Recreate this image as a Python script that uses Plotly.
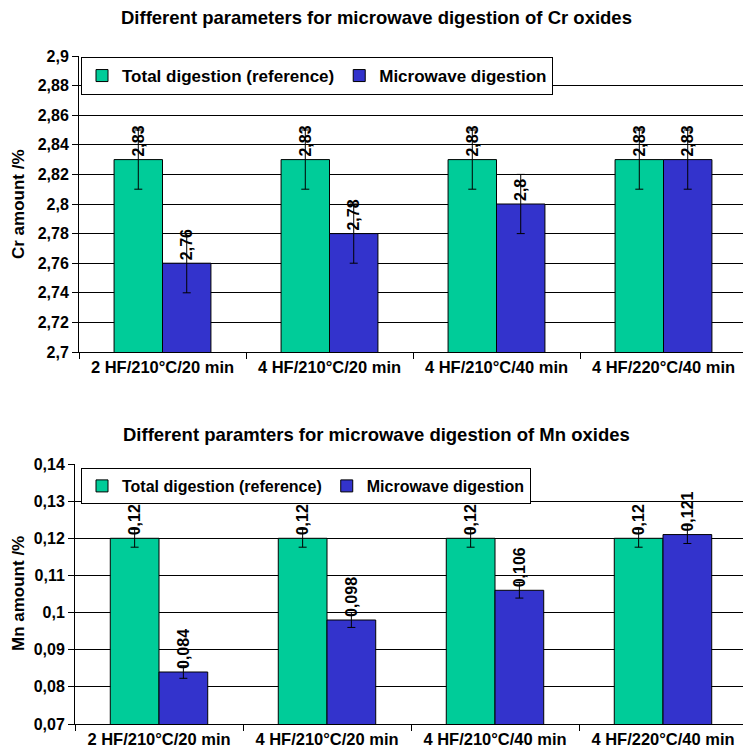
import plotly.graph_objects as go

categories = ["2 HF/210°C/20 min", "4 HF/210°C/20 min", "4 HF/210°C/40 min", "4 HF/220°C/40 min"]

cr_reference = [2.83, 2.83, 2.83, 2.83]
cr_microwave = [2.76, 2.78, 2.80, 2.83]
cr_ref_err = [0.02, 0.02, 0.02, 0.02]
cr_mw_err = [0.02, 0.02, 0.02, 0.02]
cr_ref_labels = ["2,83", "2,83", "2,83", "2,83"]
cr_mw_labels = ["2,76", "2,78", "2,8", "2,83"]
cr_tickvals = [2.70, 2.72, 2.74, 2.76, 2.78, 2.80, 2.82, 2.84, 2.86, 2.88, 2.90]
cr_ticktext = ["2,7", "2,72", "2,74", "2,76", "2,78", "2,8", "2,82", "2,84", "2,86", "2,88", "2,9"]

mn_reference = [0.12, 0.12, 0.12, 0.12]
mn_microwave = [0.084, 0.098, 0.106, 0.121]
mn_ref_err = [0.0024, 0.0024, 0.0024, 0.0024]
mn_mw_err = [0.0017, 0.002, 0.0021, 0.0024]
mn_ref_labels = ["0,12", "0,12", "0,12", "0,12"]
mn_mw_labels = ["0,084", "0,098", "0,106", "0,121"]
mn_tickvals = [0.07, 0.08, 0.09, 0.10, 0.11, 0.12, 0.13, 0.14]
mn_ticktext = ["0,07", "0,08", "0,09", "0,1", "0,11", "0,12", "0,13", "0,14"]

series_names = ["Total digestion (reference)", "Microwave digestion"]
titles = ["Different parameters for microwave digestion of Cr oxides",
          "Different paramters for microwave digestion of Mn oxides"]
ytitles = ["Cr amount /%", "Mn amount /%"]

GREEN = "#00CC99"
BLUE = "#3333CC"
FONT = "Liberation Sans, Arial, sans-serif"
W, H = 743, 753

fig = go.Figure()


def add_pair(ref, mw, ref_err, mw_err, ref_lab, mw_lab, xa, ya, legend):
    for vals, err, lab, name, col in [(ref, ref_err, ref_lab, series_names[0], GREEN),
                                      (mw, mw_err, mw_lab, series_names[1], BLUE)]:
        fig.add_trace(go.Bar(
            x=categories, y=vals, name=name, xaxis=xa, yaxis=ya, legend=legend,
            marker=dict(color=col, line=dict(color="black", width=1)),
            error_y=dict(type="data", array=err, visible=True, color="black", thickness=1, width=4),
            text=lab, textposition="outside", textangle=-90,
            textfont=dict(family=FONT, size=16, color="black", weight="bold"),
            cliponaxis=False, showlegend=True,
        ))


add_pair(cr_reference, cr_microwave, cr_ref_err, cr_mw_err, cr_ref_labels, cr_mw_labels, "x", "y", "legend")
add_pair(mn_reference, mn_microwave, mn_ref_err, mn_mw_err, mn_ref_labels, mn_mw_labels, "x2", "y2", "legend2")

common_x = dict(
    showline=True, linecolor="black", linewidth=1,
    ticks="outside", ticklen=6, tickcolor="black", tickson="boundaries",
    showgrid=False, automargin=False,
    tickfont=dict(family=FONT, size=16.5, color="black", weight="bold"),
)
common_y = dict(
    showline=True, linecolor="black", linewidth=1, ticks="outside", ticklen=6,
    tickcolor="black", showgrid=True, gridcolor="black", gridwidth=1, automargin=False,
    tickfont=dict(family=FONT, size=16, color="black", weight="bold"), zeroline=False,
)

fig.update_layout(
    template="none",
    width=W, height=H, margin=dict(l=0, r=0, t=0, b=0, autoexpand=False),
    paper_bgcolor="white", plot_bgcolor="white",
    barmode="group", bargap=0.42, bargroupgap=0,
    xaxis=dict(domain=[79 / W, 1], anchor="y", range=[-0.5, -0.5 + (W - 79) / 167.0], **common_x),
    yaxis=dict(domain=[1 - 352 / H, 1 - 56 / H], anchor="x", range=[2.7, 2.9],
               tickvals=cr_tickvals, ticktext=cr_ticktext, **common_y),
    xaxis2=dict(domain=[75 / W, 1], anchor="y2", range=[-0.5, -0.5 + (W - 75) / 168.0], **common_x),
    yaxis2=dict(domain=[1 - 724 / H, 1 - 464 / H], anchor="x2", range=[0.07, 0.14],
                tickvals=mn_tickvals, ticktext=mn_ticktext, **common_y),
    legend=dict(orientation="h", x=81 / W, y=1 - 57 / H, xanchor="left", yanchor="top",
                bgcolor="white", bordercolor="black", borderwidth=1,
                font=dict(family=FONT, size=17, color="black", weight="bold"),
                itemclick=False, itemdoubleclick=False),
    legend2=dict(orientation="h", x=81 / W, y=1 - 468 / H, xanchor="left", yanchor="top",
                 bgcolor="white", bordercolor="black", borderwidth=1,
                 font=dict(family=FONT, size=16, color="black", weight="bold"),
                 itemclick=False, itemdoubleclick=False),
    showlegend=True,
)

annos = [
    dict(text=titles[0], x=377 / W, y=1 - 18 / H, size=18.5, angle=0),
    dict(text=titles[1], x=377 / W, y=1 - 434 / H, size=18.5, angle=0),
    dict(text=ytitles[0], x=18 / W, y=1 - 204 / H, size=17, angle=-90),
    dict(text=ytitles[1], x=18 / W, y=1 - 594 / H, size=17, angle=-90),
]
for a in annos:
    fig.add_annotation(text=a["text"], x=a["x"], y=a["y"], xref="paper", yref="paper",
                       xanchor="center", yanchor="middle", showarrow=False, textangle=a["angle"],
                       font=dict(family=FONT, size=a["size"], color="black", weight="bold"))

fig.write_html(
    "out.html",
    config={"displayModeBar": False},
    post_script="document.body.style.margin='0';document.body.style.padding='0';document.body.style.overflow='hidden';",
)
